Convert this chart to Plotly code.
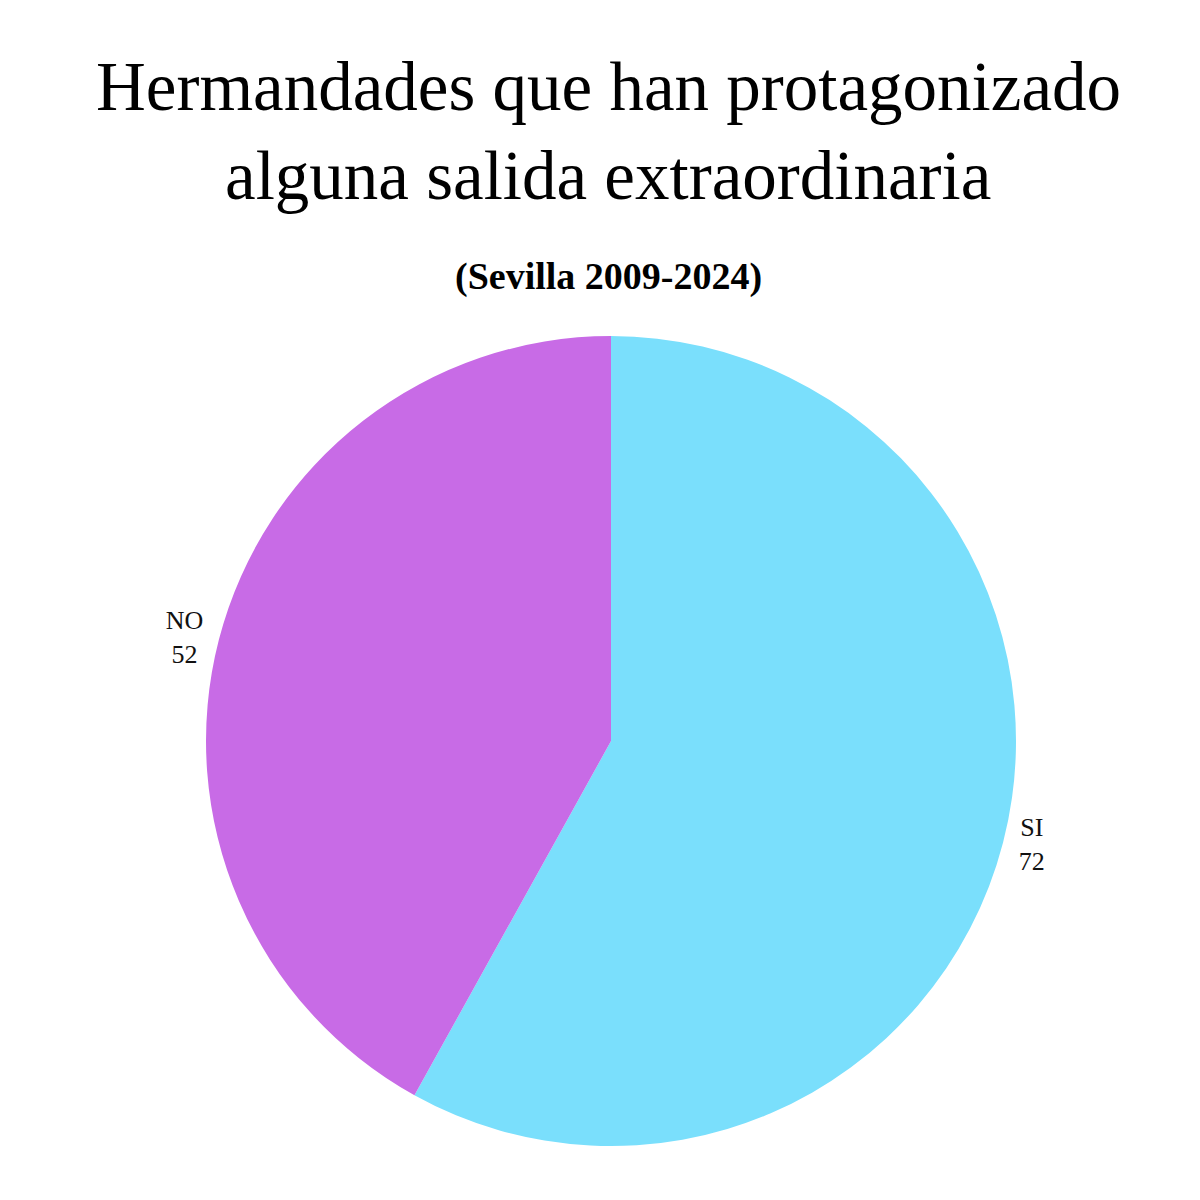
import plotly.graph_objects as go

labels = ["SI", "NO"]
values = [72, 52]
colors = ["#7ADFFC", "#C86BE6"]

title_lines = ["Hermandades que han protagonizado", "alguna salida extraordinaria"]
subtitle = "(Sevilla 2009-2024)"

fig = go.Figure(go.Pie(
    labels=labels,
    values=values,
    marker=dict(colors=colors, line=dict(width=0)),
    sort=False,
    direction="clockwise",
    rotation=0,
    textposition="outside",
    texttemplate="%{label}<br>%{value}",
    textfont=dict(family="Liberation Serif", size=26, color="#111111"),
    showlegend=False,
    hoverinfo="label+value",
    domain=dict(x=[0.1650, 0.8400], y=[0.0516, 0.7266]),
))

title_y = [79, 168]
for line, yy in zip(title_lines, title_y):
    fig.add_annotation(text=line, x=0.5, y=1 - yy / 1200,
                       xref="paper", yref="paper", showarrow=False, yanchor="middle",
                       font=dict(family="Liberation Serif", size=69, color="#000000"))
fig.add_annotation(text="<b>" + subtitle + "</b>", x=0.5, y=1 - 268 / 1200,
                   xref="paper", yref="paper", showarrow=False, yanchor="middle",
                   font=dict(family="Liberation Serif", size=38, color="#000000"))

fig.update_layout(width=1200, height=1200, margin=dict(l=0, r=0, t=0, b=0),
                  paper_bgcolor="white", plot_bgcolor="white")

fig.write_html("out.html")
